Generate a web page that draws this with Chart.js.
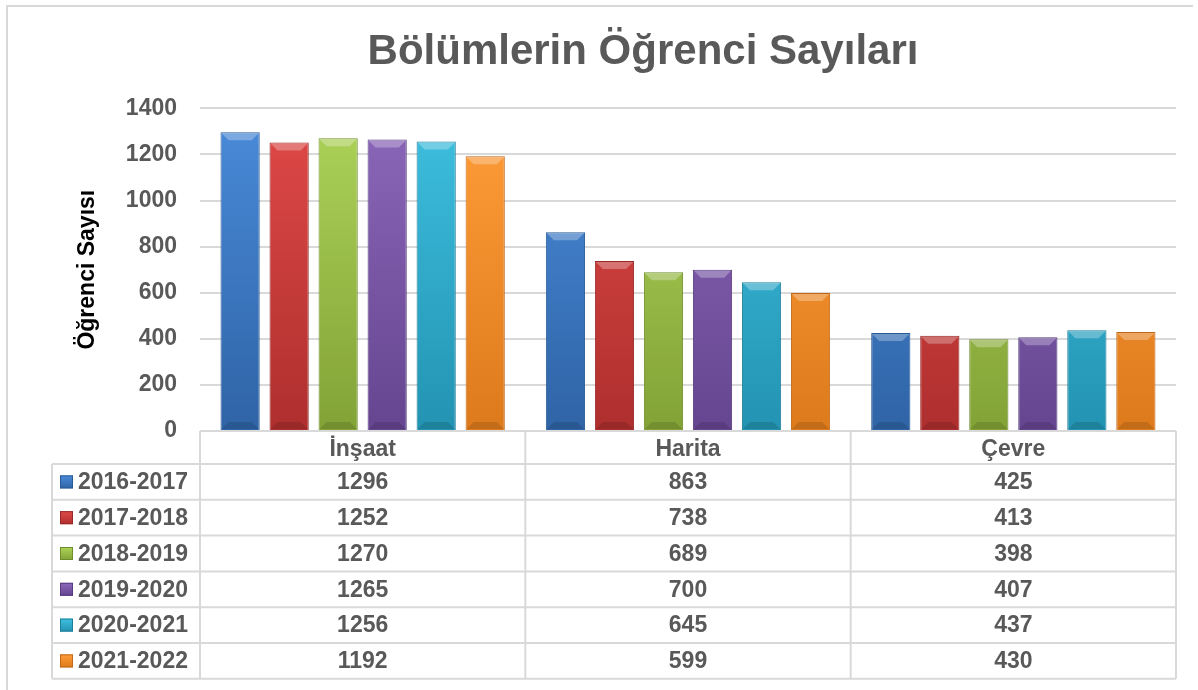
<!DOCTYPE html>
<html>
<head>
<meta charset="utf-8">
<title>Bölümlerin Öğrenci Sayıları</title>
<script src="https://cdn.jsdelivr.net/npm/chart.js@4.4.1/dist/chart.umd.min.js"></script>
<style>
  body { margin: 0; background: #fff; }
  #wrap { position: relative; width: 1198px; height: 690px; }
</style>
</head>
<body>
<div id="wrap"><canvas id="ogrenciChart"></canvas></div>
<script>
// -------------------- DATA --------------------
const bolumler = ['İnşaat', 'Harita', 'Çevre'];
const yillar = ['2016-2017', '2017-2018', '2018-2019', '2019-2020', '2020-2021', '2021-2022'];

const y2016 = [1296, 863, 425];
const y2017 = [1252, 738, 413];
const y2018 = [1270, 689, 398];
const y2019 = [1265, 700, 407];
const y2020 = [1256, 645, 437];
const y2021 = [1192, 599, 430];

const yTicks = [0, 200, 400, 600, 800, 1000, 1200, 1400];

// colours: [light, dark, border]
const renkler = [
    ['#4A8BDA', '#2F64A6', '#2A5A94'],
    ['#E04A48', '#AE2F2E', '#962827'],
    ['#AED45A', '#82A236', '#6F8C2C'],
    ['#8C68BA', '#654590', '#573C7E'],
    ['#3FC0E0', '#2393B2', '#1E7F9A'],
    ['#FF9E3A', '#DD7A1C', '#C06818']
];

const seriler = [y2016, y2017, y2018, y2019, y2020, y2021];

const FONT = "'Liberation Sans', Arial, sans-serif";
const GRAY = '#595959';
const LINE = '#D9D9D9';
const ROW_H = 35.8;

function gradient(chart, i) {
    const area = chart.chartArea;
    if (!area) return renkler[i][0];
    const g = chart.ctx.createLinearGradient(0, area.top, 0, area.bottom);
    g.addColorStop(0, renkler[i][0]);
    g.addColorStop(1, renkler[i][1]);
    return g;
}

// -------------------- PLUGINS --------------------
// thin frame round the chart (left + top, like the cropped Excel frame)
const framePlugin = {
    id: 'frame',
    beforeDraw(chart) {
        const ctx = chart.ctx;
        ctx.save();
        ctx.strokeStyle = LINE;
        ctx.lineWidth = 2;
        ctx.beginPath();
        ctx.moveTo(7, 690);
        ctx.lineTo(7, 6);
        ctx.lineTo(1193, 6);
        ctx.stroke();
        ctx.restore();
    }
};

// small bevel caps on top / bottom of each bar (Excel 3D look)
const bevelPlugin = {
    id: 'bevel',
    afterDatasetsDraw(chart) {
        const ctx = chart.ctx;
        ctx.save();
        chart.data.datasets.forEach((ds, i) => {
            chart.getDatasetMeta(i).data.forEach((bar) => {
                const l = bar.x - bar.width / 2 + 1, r = bar.x + bar.width / 2 - 1;
                const t = bar.y + 1, b = bar.base - 1, d = 7;
                ctx.fillStyle = 'rgba(255,255,255,0.28)';
                ctx.beginPath();
                ctx.moveTo(l, t); ctx.lineTo(r, t);
                ctx.lineTo(r - d, t + d); ctx.lineTo(l + d, t + d);
                ctx.closePath(); ctx.fill();
                ctx.fillStyle = 'rgba(0,0,0,0.12)';
                ctx.beginPath();
                ctx.moveTo(l, b); ctx.lineTo(r, b);
                ctx.lineTo(r - d, b - d); ctx.lineTo(l + d, b - d);
                ctx.closePath(); ctx.fill();
            });
        });
        ctx.restore();
    }
};

// data table under the plot (Excel "data table with legend keys")
const tablePlugin = {
    id: 'dataTable',
    afterDraw(chart) {
        const { ctx, chartArea, scales: { x } } = chart;
        const top = chartArea.bottom;
        const headH = x.height;
        const colW = (chartArea.right - chartArea.left) / bolumler.length;
        const legLeft = 52;
        const bodyTop = top + headH;
        const bottom = bodyTop + ROW_H * yillar.length;

        ctx.save();
        ctx.strokeStyle = LINE;
        ctx.lineWidth = 2;

        // header row top
        ctx.beginPath();
        ctx.moveTo(chartArea.left, top);
        ctx.lineTo(chartArea.right, top);
        ctx.stroke();

        // body rows
        for (let r = 0; r <= yillar.length; r++) {
            const yy = bodyTop + r * ROW_H;
            ctx.beginPath();
            ctx.moveTo(legLeft, yy);
            ctx.lineTo(chartArea.right, yy);
            ctx.stroke();
        }
        // verticals
        ctx.beginPath();
        ctx.moveTo(legLeft, bodyTop);
        ctx.lineTo(legLeft, bottom);
        ctx.stroke();
        for (let c = 0; c <= bolumler.length; c++) {
            const xx = chartArea.left + c * colW;
            ctx.beginPath();
            ctx.moveTo(xx, top);
            ctx.lineTo(xx, bottom);
            ctx.stroke();
        }

        // legend keys + values
        ctx.font = 'bold 23px ' + FONT;
        ctx.textBaseline = 'middle';
        chart.data.datasets.forEach((ds, i) => {
            const cy = bodyTop + i * ROW_H + ROW_H / 2;
            // key
            const kx = 60, ks = 13, ky = cy - ks / 2;
            const g = ctx.createLinearGradient(0, ky, 0, ky + ks);
            g.addColorStop(0, renkler[i][0]);
            g.addColorStop(1, renkler[i][1]);
            ctx.fillStyle = g;
            ctx.fillRect(kx, ky, ks, ks);
            ctx.strokeStyle = renkler[i][2];
            ctx.lineWidth = 1;
            ctx.strokeRect(kx + 0.5, ky + 0.5, ks - 1, ks - 1);

            ctx.fillStyle = GRAY;
            ctx.textAlign = 'left';
            ctx.fillText(ds.label, 78, cy + 1);

            ctx.textAlign = 'center';
            ds.data.forEach((v, j) => {
                ctx.fillText(String(v), x.getPixelForValue(j), cy + 1);
            });
        });
        ctx.restore();
    }
};

// -------------------- CHART --------------------
const ctx = document.getElementById('ogrenciChart').getContext('2d');
new Chart(ctx, {
    type: 'bar',
    data: {
        labels: bolumler,
        datasets: seriler.map((data, i) => ({
            label: yillar[i],
            data: data,
            backgroundColor: (c) => gradient(c.chart, i),
            borderColor: renkler[i][2],
            borderWidth: 1,
            categoryPercentage: 0.904,
            barPercentage: 0.8
        }))
    },
    options: {
        responsive: true,
        maintainAspectRatio: false,
        animation: false,
        layout: {
            padding: { left: 110, right: 22, top: 0, bottom: 226 }
        },
        plugins: {
            legend: { display: false },
            tooltip: { enabled: false },
            title: {
                display: true,
                text: 'Bölümlerin Öğrenci Sayıları',
                color: GRAY,
                font: { family: FONT, size: 42, weight: 'bold' },
                padding: { top: 27, bottom: 31 }
            }
        },
        scales: {
            x: {
                grid: { display: false },
                border: { display: false },
                ticks: {
                    color: GRAY,
                    padding: -3,
                    font: { family: FONT, size: 23, weight: 'bold' }
                },
                afterFit: (s) => { s.height = 33; }
            },
            y: {
                min: 0,
                max: 1400,
                afterBuildTicks: (s) => { s.ticks = yTicks.map(v => ({ value: v })); },
                grid: { color: LINE, lineWidth: 2, drawTicks: false },
                border: { display: false },
                ticks: {
                    color: GRAY,
                    padding: 23,
                    font: { family: FONT, size: 23, weight: 'bold' },
                    callback: (v) => String(v)
                },
                title: {
                    display: true,
                    text: 'Öğrenci Sayısı',
                    color: '#000',
                    padding: { top: -36, bottom: 0 },
                    font: { family: FONT, size: 23, weight: 'bold' }
                },
                afterFit: (s) => { s.width = 90; }
            }
        }
    },
    plugins: [framePlugin, bevelPlugin, tablePlugin]
});
</script>
</body>
</html>
